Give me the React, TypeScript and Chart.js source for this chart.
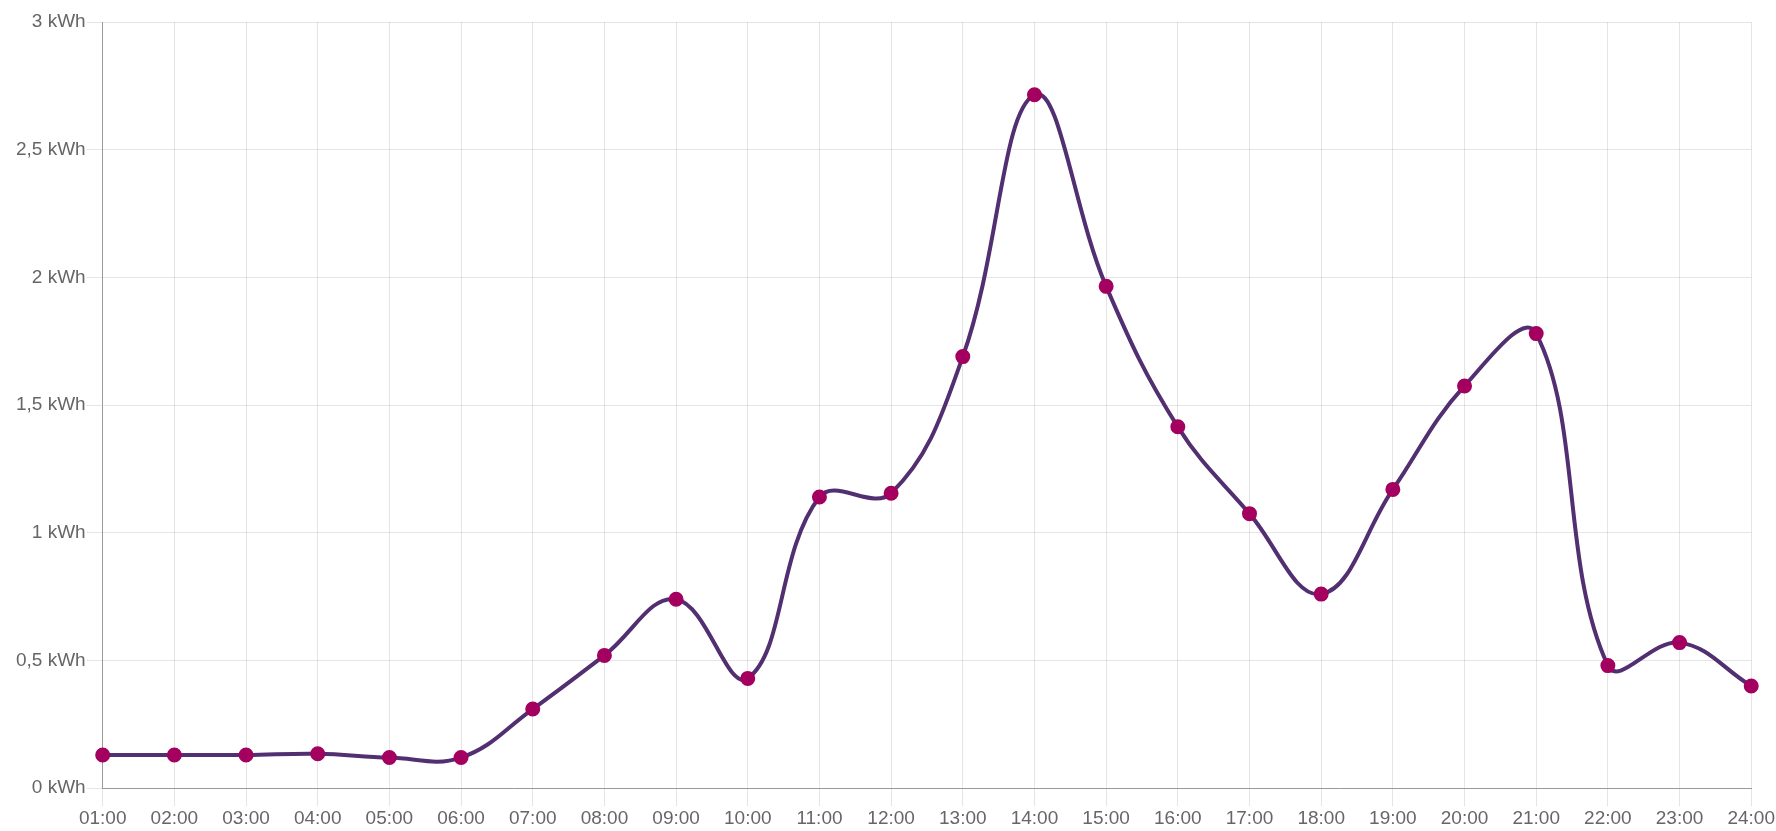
import React, { useEffect, useRef } from "react";
import { Chart, registerables } from "chart.js";

Chart.register(...registerables);

const hours = ["01:00","02:00","03:00","04:00","05:00","06:00","07:00","08:00","09:00","10:00","11:00","12:00","13:00","14:00","15:00","16:00","17:00","18:00","19:00","20:00","21:00","22:00","23:00","24:00"];
const energy = [0.13,0.13,0.13,0.135,0.12,0.12,0.31,0.52,0.74,0.43,1.14,1.155,1.69,2.715,1.965,1.415,1.075,0.76,1.17,1.575,1.78,0.48,0.57,0.40];

export default function App() {
  const ref = useRef<HTMLCanvasElement>(null);
  useEffect(() => {
    if (!ref.current) return;
    const font = { family: "'Liberation Sans', Arial, sans-serif", size: 19 };
    const chart = new Chart(ref.current, {
      type: "line",
      data: {
        labels: hours,
        datasets: [{
          data: energy,
          borderColor: "#512f70",
          borderWidth: 4,
          backgroundColor: "#a3005f",
          pointBackgroundColor: "#a3005f",
          pointBorderColor: "#a3005f",
          pointRadius: 5.5,
          tension: 0.4,
          fill: false,
        }],
      },
      options: {
        animation: false,
        responsive: false,
        maintainAspectRatio: false,
        layout: { padding: { top: 22, right: 4, left: 15, bottom: 0 } },
        plugins: { legend: { display: false }, tooltip: { enabled: false } },
        scales: {
          x: {
            grid: { color: "rgba(0,0,0,0.1)", tickLength: 18 },
            border: { color: "#999" },
            ticks: { color: "#666", font, padding: 1, maxRotation: 0, autoSkip: false },
          },
          y: {
            min: 0,
            max: 3,
            grid: { color: "rgba(0,0,0,0.1)", tickLength: 16 },
            border: { color: "#999" },
            ticks: {
              stepSize: 0.5,
              color: "#666",
              font,
              padding: 1,
              callback: (v: any) => String(v).replace(".", ",") + " kWh",
            },
          },
        },
      },
    });
    return () => chart.destroy();
  }, []);
  return (
    <div style={{ position: "absolute", left: 0, top: 0, width: 1776, height: 831, background: "#fff" }}>
      <canvas ref={ref} width={1776} height={831} style={{ display: "block" }} />
    </div>
  );
}
